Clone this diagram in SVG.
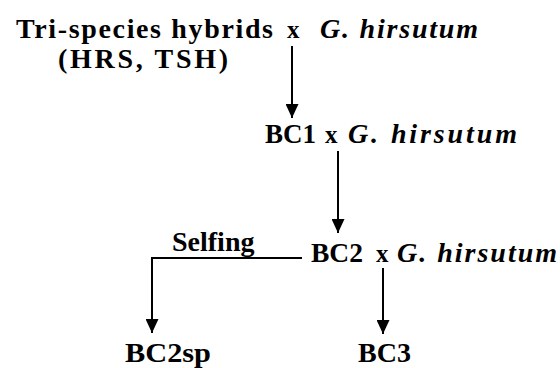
<svg xmlns="http://www.w3.org/2000/svg" width="560" height="368" viewBox="0 0 560 368">
  <style>
    text { font-family: "Liberation Serif", "DejaVu Serif", "Times New Roman", serif; font-weight: bold; font-size: 28px; fill: #000; }
    .sp { font-style: italic; }
    .cx { font-size: 25px; }
    .edge { stroke: #000; stroke-width: 2; fill: none; }
  </style>
  <defs>
    <marker id="head" viewBox="0 0 14 13" refX="14" refY="6.5" markerWidth="14" markerHeight="13" markerUnits="userSpaceOnUse" orient="auto">
      <path d="M0,0 L14,6.5 L0,13 Z" fill="#000"/>
    </marker>
  </defs>

  <!-- first cross -->
  <g id="parents">
    <text x="16" y="38" textLength="257" lengthAdjust="spacing">Tri-species hybrids</text>
    <text class="cx" x="287" y="38">x</text>
    <text class="sp" x="320" y="38" textLength="158" lengthAdjust="spacing">G. hirsutum</text>
    <text x="58" y="68" textLength="170" lengthAdjust="spacing">(HRS, TSH)</text>
  </g>

  <!-- first backcross -->
  <g id="bc1">
    <text x="265" y="143" textLength="51" lengthAdjust="spacingAndGlyphs">BC1</text>
    <text class="cx" x="325" y="143">x</text>
    <text class="sp" x="348" y="143" textLength="169" lengthAdjust="spacing">G. hirsutum</text>
  </g>

  <!-- second backcross -->
  <g id="bc2">
    <text x="311" y="262" textLength="52" lengthAdjust="spacingAndGlyphs">BC2</text>
    <text class="cx" x="376" y="262">x</text>
    <text class="sp" x="397" y="262" textLength="160" lengthAdjust="spacing">G. hirsutum</text>
  </g>

  <g id="selfing">
    <text x="172" y="251">Selfing</text>
  </g>

  <g id="bc2sp">
    <text x="125" y="362" textLength="86" lengthAdjust="spacingAndGlyphs">BC2sp</text>
  </g>

  <g id="bc3">
    <text x="358" y="362">BC3</text>
  </g>

  <g id="connectors">
    <line class="edge" x1="292" y1="46" x2="292" y2="118" marker-end="url(#head)"/>
    <line class="edge" x1="338" y1="151" x2="338" y2="233" marker-end="url(#head)"/>
    <polyline class="edge" points="302,258 152,258 152,333" marker-end="url(#head)"/>
    <line class="edge" x1="383" y1="268" x2="383" y2="334" marker-end="url(#head)"/>
  </g>
</svg>
